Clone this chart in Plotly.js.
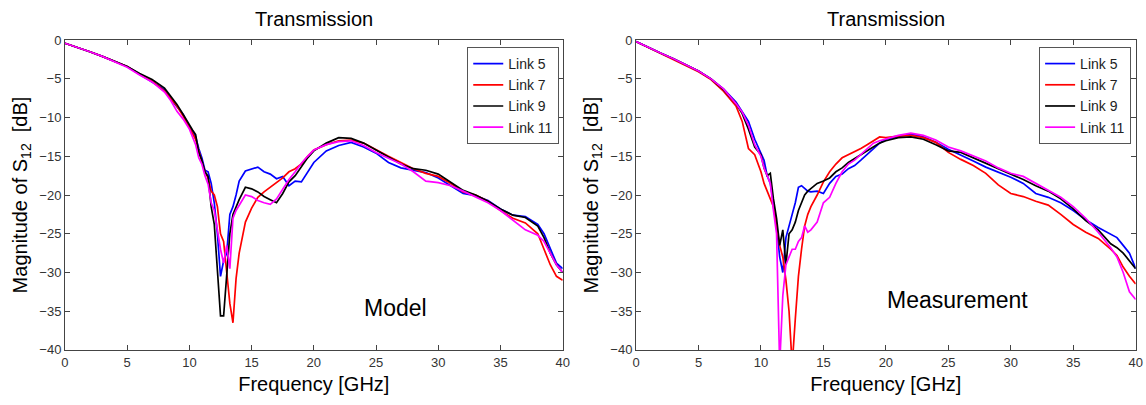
<!DOCTYPE html>
<html><head><meta charset="utf-8">
<script src="https://cdn.plot.ly/plotly-3.0.1.min.js"></script>
<style>html,body{margin:0;padding:0;background:#fff}#chart{width:1146px;height:405px}</style>
</head><body><div id="chart"></div>
<script>
const freq = [0,1,2,3,4,5,6,7,8,8.5,9,9.5,10,10.25,10.5,10.75,11,11.25,11.5,11.75,12,12.25,12.5,12.75,13,13.25,13.5,13.75,14,14.5,15,15.5,16,16.5,17,17.5,18,18.5,19,19.5,20,21,22,23,24,25,26,27,28,29,30,31,32,33,34,35,36,37,38,38.5,39,39.5,40];

// Model panel
const modelLink5 = [-0.4,-0.9,-1.5,-2.1,-2.7,-3.4,-4.4,-5.4,-6.4,-7.6,-8.6,-9.6,-11.2,-11.8,-12.5,-14,-15.2,-16.8,-17,-18.5,-21,-25,-30.5,-28.5,-27.5,-22.5,-21.5,-20,-18.2,-16.9,-16.7,-16.4,-17,-17.3,-17.9,-17.6,-18.8,-18.2,-18.3,-17,-15.8,-14.3,-13.6,-13.2,-13.8,-14.6,-15.8,-16.5,-16.8,-17.1,-17.8,-18.8,-19.8,-20.1,-20.7,-21.8,-22.6,-22.8,-23.8,-25,-27,-28.8,-29.5];
const modelLink7 = [-0.4,-0.9,-1.5,-2.1,-2.7,-3.4,-4.4,-5.3,-6.6,-7.5,-8.5,-9.8,-11.3,-11.9,-12.8,-14.3,-15.5,-17,-17.8,-19.5,-20,-21.5,-25,-26,-30,-34,-36.5,-30.8,-27.5,-23.5,-21.7,-20.3,-19.6,-19,-18.5,-17.8,-17,-16.6,-16,-15,-14.2,-13.5,-13,-12.9,-13.3,-14.2,-15,-15.8,-16.6,-17.2,-17.6,-18.5,-19.6,-20,-20.8,-22,-23,-23.6,-25,-27,-29,-30.5,-31];
const modelLink9 = [-0.4,-0.9,-1.5,-2.1,-2.7,-3.4,-4.3,-5.1,-6.2,-7.2,-8.3,-9.6,-11,-11.6,-12.2,-14.5,-15.5,-17,-17.6,-21.5,-23.8,-30,-35.6,-35.6,-30,-25,-22.5,-21.5,-20.6,-19,-19.2,-19.6,-20.2,-20.6,-21,-19.8,-18.3,-17.5,-16.4,-15.2,-14.3,-13.3,-12.6,-12.7,-13.3,-14.2,-15.2,-16,-16.6,-16.8,-17.3,-18.3,-19.4,-20,-20.8,-21.8,-22.6,-22.9,-24,-25.5,-27.5,-29,-30];
const modelLink11 = [-0.4,-0.9,-1.5,-2.1,-2.8,-3.5,-4.5,-5.4,-6.7,-7.8,-9.2,-10.2,-11.5,-12.5,-13.5,-15.2,-16,-17.5,-18.6,-21,-22,-24.5,-27,-28.8,-26.5,-29.5,-23,-22,-21.3,-20,-20.2,-20.7,-21,-21.2,-20.5,-19.2,-18,-17,-15.9,-15,-14.2,-13.5,-13.1,-13,-13.6,-14.5,-15.2,-16,-17,-18.2,-18.4,-18.8,-19.5,-20.2,-21,-22,-23.3,-24.5,-25.2,-26,-27.5,-29,-30];

// Measurement panel
const measLink5 = [-0.2,-1.0,-1.7,-2.4,-3.2,-4,-5,-6.3,-8,-9.2,-10.5,-12.8,-14.5,-15.5,-17.5,-18.5,-21,-24,-28,-30,-25.5,-23.8,-22.5,-21,-19,-18.8,-19.2,-19.5,-19.6,-19.5,-19.8,-18.5,-17.6,-17.3,-16.6,-16.2,-15.5,-14.8,-14,-13.3,-12.8,-12.4,-12.1,-12.5,-13.2,-14.1,-14.8,-15.6,-16.4,-17,-17.7,-18.5,-19.8,-20.3,-21,-22,-23.2,-24.2,-25,-25.5,-26.5,-27.5,-29.5];
const measLink7 = [-0.2,-1.0,-1.7,-2.5,-3.3,-4.1,-5.1,-6.6,-8.5,-10.5,-14,-14.8,-17,-18.5,-19.5,-20.5,-21.5,-24,-26.5,-28,-31,-35,-42,-36,-30.5,-27,-24,-22.5,-21.5,-20,-18.3,-17,-16,-15.2,-14.8,-14.5,-14,-13.5,-13,-12.5,-12.6,-12.4,-12.3,-12.6,-13.2,-14.5,-15.4,-16.2,-17.2,-18.7,-19.8,-20.2,-20.8,-21.3,-22.5,-23.8,-24.8,-25.6,-27,-27.8,-29.3,-30.5,-31.5];
const measLink9 = [-0.2,-1.0,-1.7,-2.4,-3.2,-4,-5,-6.4,-8.2,-9.5,-11.5,-13.8,-14.8,-16.5,-17.5,-17.2,-20.5,-23,-26.5,-24.5,-29,-25,-24.5,-23.5,-22,-21,-20,-19.5,-19.2,-18.5,-18.2,-17.8,-17,-16.5,-15.8,-15.3,-14.8,-14.3,-13.8,-13.3,-13,-12.6,-12.5,-12.8,-13.5,-14.3,-14.5,-15.2,-15.8,-16.5,-17.3,-18,-18.8,-19.5,-20.5,-21.8,-23.3,-24.5,-26.3,-26.8,-27.5,-28.5,-29.5];
const measLink11 = [-0.2,-1.0,-1.7,-2.4,-3.2,-4,-5,-6.3,-8.2,-9.3,-11,-13.5,-15,-16.5,-17.5,-18.5,-22,-25,-42,-33,-29,-28,-27,-27,-26,-25.5,-24,-24.8,-24.5,-23.5,-21,-20.3,-18.5,-17,-16,-15.5,-14.8,-14,-13.3,-13,-12.8,-12.3,-12,-12.3,-12.9,-13.8,-14.3,-14.9,-15.6,-16.5,-17.2,-17.6,-18.5,-19.3,-20.3,-21.5,-23,-24.8,-26.8,-28,-30,-32.5,-33.5];

const linkNames = ['Link 5','Link 7','Link 9','Link 11'];
const linkColors = ['#0000ff','#ff0000','#000000','#ff00ff'];
const panelTitles = ['Transmission','Transmission'];
const panelLabels = ['Model','Measurement'];
const xTitle = 'Frequency [GHz]';
const yTitle = 'Magnitude of S<sub>12</sub>  [dB]';

const FONT = '"Liberation Sans", Arial, sans-serif';
const modelSeries = [modelLink5, modelLink7, modelLink9, modelLink11];
const measSeries = [measLink5, measLink7, measLink9, measLink11];

const traces = [];
modelSeries.forEach((ys, i) => traces.push({
  x: freq, y: ys, type: 'scatter', mode: 'lines', name: linkNames[i],
  line: {color: linkColors[i], width: 1.7}, xaxis: 'x', yaxis: 'y', legend: 'legend'
}));
measSeries.forEach((ys, i) => traces.push({
  x: freq, y: ys, type: 'scatter', mode: 'lines', name: linkNames[i],
  line: {color: linkColors[i], width: 1.7}, xaxis: 'x2', yaxis: 'y2', legend: 'legend2'
}));

function xa(domain, anchor) {
  return {domain: domain, anchor: anchor, range: [0, 40], tick0: 0, dtick: 5,
    ticks: 'inside', ticklen: 5, tickcolor: '#444', mirror: 'ticks', showline: true,
    linecolor: '#444', linewidth: 1, showgrid: false, zeroline: false,
    tickfont: {family: FONT, size: 13, color: '#333'},
    title: {text: xTitle, font: {family: FONT, size: 20, color: '#000'}, standoff: 8}};
}
function ya(anchor) {
  return {domain: [0.136, 0.901], anchor: anchor, range: [-40, 0], tick0: 0, dtick: 5,
    ticks: 'inside', ticklen: 5, tickcolor: '#444', mirror: 'ticks', showline: true,
    linecolor: '#444', linewidth: 1, showgrid: false, zeroline: false,
    tickfont: {family: FONT, size: 13, color: '#333'},
    title: {text: yTitle, font: {family: FONT, size: 20, color: '#000'}, standoff: 6}};
}
function leg(xr) {
  return {x: xr, y: 0.884, xanchor: 'right', yanchor: 'top', bgcolor: '#fff',
    bordercolor: '#555', borderwidth: 1, font: {family: FONT, size: 14, color: '#222'},
    tracegroupgap: 0};
}

const layout = {
  width: 1146, height: 405, margin: {l: 0, r: 0, t: 0, b: 0},
  paper_bgcolor: '#fff', plot_bgcolor: '#fff', showlegend: true,
  xaxis: xa([0.0567, 0.491], 'y'), yaxis: ya('x'),
  xaxis2: xa([0.555, 0.991], 'y2'), yaxis2: ya('x2'),
  legend: leg(0.488), legend2: leg(0.987),
  annotations: [
    {text: panelTitles[0], xref: 'x domain', yref: 'paper', x: 0.5, y: 0.953, showarrow: false, xanchor: 'center', yanchor: 'middle', font: {family: FONT, size: 20, color: '#000'}},
    {text: panelTitles[1], xref: 'x2 domain', yref: 'paper', x: 0.5, y: 0.953, showarrow: false, xanchor: 'center', yanchor: 'middle', font: {family: FONT, size: 20, color: '#000'}},
    {text: panelLabels[0], xref: 'x', yref: 'y', x: 26.6, y: -34.6, showarrow: false, font: {family: FONT, size: 23, color: '#000'}},
    {text: panelLabels[1], xref: 'x2', yref: 'y2', x: 25.7, y: -33.6, showarrow: false, font: {family: FONT, size: 23, color: '#000'}}
  ]
};

Plotly.newPlot('chart', traces, layout, {displayModeBar: false, responsive: false});
</script>
</body></html>
